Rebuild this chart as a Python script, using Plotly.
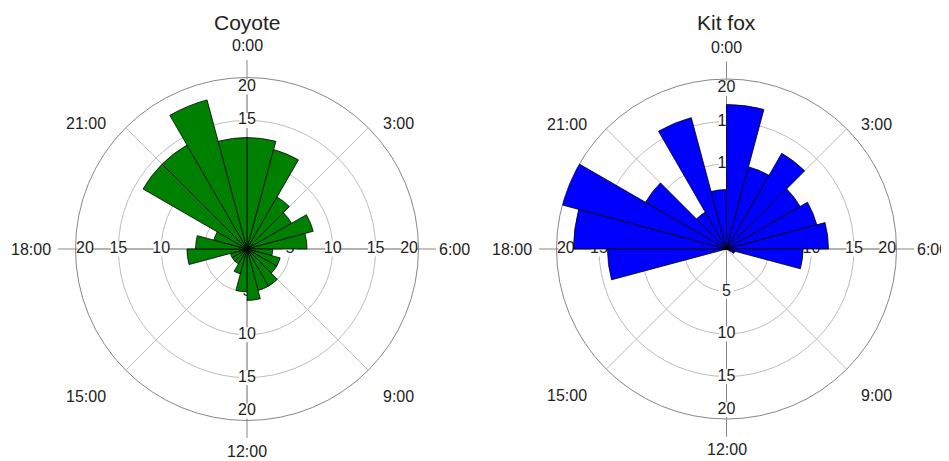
import math
import plotly.graph_objects as go

# hourly activity counts, one bin per hour starting at 0:00
hours = list(range(24))
coyote_counts = [13, 12, 7, 6, 8, 7, 3, 4, 4, 5, 5, 6, 5, 3, 2, 2, 2, 7, 6, 4, 14, 14, 18, 13]
kitfox_counts = [17, 10, 13, 10, 11, 12, 9, 1, 0, 0, 0, 0, 0, 0, 0, 0, 0, 14, 18, 20, 11, 5, 16, 7]

species = ["Coyote", "Kit fox"]
series = [coyote_counts, kitfox_counts]
bar_colors = ["#008000", "#0000ff"]

clock_hours = [0, 3, 6, 9, 12, 15, 18, 21]
clock_labels = ["0:00", "3:00", "6:00", "9:00", "12:00", "15:00", "18:00", "21:00"]
cardinal_hours = [0, 6, 12, 18]
r_ticks = [5, 10, 15, 20]
r_max = 20

# the page body adds an 8px margin, so the figure is laid out 8px smaller
PAGE = 8
W, H = 949 - PAGE, 461 - PAGE
FONT = "Arial, Liberation Sans, sans-serif"
TXT = "#222222"
LIGHT = "#bdbdbd"
DARK = "#878787"
DEG = 360 / 24

centres_x = [247 - PAGE, 726.5 - PAGE]
radii = [171.5, 170]
centre_y = 461 - 249  # from the bottom of the window
LABEL_GAP = 19  # px between outer circle and hour labels

fig = go.Figure()
layout = dict(width=W, height=H, margin=dict(l=0, r=0, t=0, b=0),
              paper_bgcolor="white", showlegend=False,
              font=dict(family=FONT, color=TXT), annotations=[])

for i, name in enumerate(species):
    cx = centres_x[i]
    R = radii[i]
    dom = dict(x=[(cx - R) / W, (cx + R) / W],
               y=[(centre_y - R) / H, (centre_y + R) / H])
    ids = [3 * i + k for k in (1, 2, 3)]
    keys = ["polar" if n == 1 else f"polar{n}" for n in ids]

    # grid circles, light spokes
    layout[keys[0]] = dict(
        domain=dom, bgcolor="white",
        radialaxis=dict(range=[0, r_max], tickvals=r_ticks, showticklabels=False,
                        ticks="", showline=False, gridcolor=LIGHT, gridwidth=1),
        angularaxis=dict(direction="clockwise", rotation=90, tickmode="array",
                         tickvals=[h * DEG for h in clock_hours], showticklabels=False,
                         ticks="", showline=True, linecolor=DARK, linewidth=1,
                         gridcolor=LIGHT, gridwidth=1))
    # darker cardinal axes + radial labels
    layout[keys[1]] = dict(
        domain=dom, bgcolor="rgba(0,0,0,0)",
        radialaxis=dict(range=[0, r_max], showgrid=False, showticklabels=False,
                        ticks="", showline=False),
        angularaxis=dict(direction="clockwise", rotation=90, tickmode="array",
                         tickvals=[h * DEG for h in cardinal_hours],
                         showticklabels=False, ticks="outside", ticklen=17,
                         tickcolor=DARK, showline=False, gridcolor=DARK, gridwidth=1))
    # bars
    layout[keys[2]] = dict(
        domain=dom, bgcolor="rgba(0,0,0,0)",
        radialaxis=dict(range=[0, r_max], visible=False),
        angularaxis=dict(direction="clockwise", rotation=90, visible=False))

    # empty trace so the grid subplot gets drawn
    fig.add_trace(go.Scatterpolar(r=[], theta=[], mode="markers",
                                  hoverinfo="skip", subplot=keys[0]))

    lab_r, lab_t, lab_s = [], [], []
    for h in cardinal_hours:
        for t in r_ticks:
            lab_r.append(t if t < r_max else r_max - 1.1)
            lab_t.append(h * DEG)
            lab_s.append(str(t))
    fig.add_trace(go.Scatterpolar(
        r=lab_r, theta=lab_t, text=lab_s, mode="markers+text",
        textposition="middle center", cliponaxis=False, hoverinfo="skip",
        marker=dict(symbol="square", size=15, color="white", line=dict(width=0)),
        textfont=dict(size=16, color=TXT, family=FONT), subplot=keys[1]))

    fig.add_trace(go.Barpolar(
        r=series[i], theta=[h * DEG + DEG / 2 for h in hours], width=DEG,
        marker=dict(color=bar_colors[i], line=dict(color="black", width=0.8)),
        name=name, subplot=keys[2]))

    # hour labels around the dial
    for h, lb in zip(clock_hours, clock_labels):
        a = math.radians(h * DEG)
        s, c = math.sin(a), math.cos(a)
        rl = R + LABEL_GAP
        px, py = cx + rl * s, centre_y + rl * c
        if abs(s) < 1e-6:
            xa = "center"
        elif s > 0:
            xa = "left"
        else:
            xa = "right"
            px -= 5
        if abs(c) < 1e-6:
            ya = "middle"
        elif h in cardinal_hours:
            ya = "bottom" if c > 0 else "top"
            py += 3 if c > 0 else -2
        else:
            ya = "top"
            if c < 0:
                py -= 3
        layout["annotations"].append(dict(
            text=lb, x=px / W, y=py / H,
            xref="paper", yref="paper", xanchor=xa, yanchor=ya, showarrow=False,
            borderpad=0, font=dict(size=16, color=TXT, family=FONT)))

    layout["annotations"].append(dict(
        text=name, x=cx / W, y=(H - (22 - PAGE)) / H, xref="paper", yref="paper",
        xanchor="center", yanchor="middle", showarrow=False,
        font=dict(size=21, color=TXT, family=FONT)))

fig.update_layout(**layout)
fig.write_html("out.html")
